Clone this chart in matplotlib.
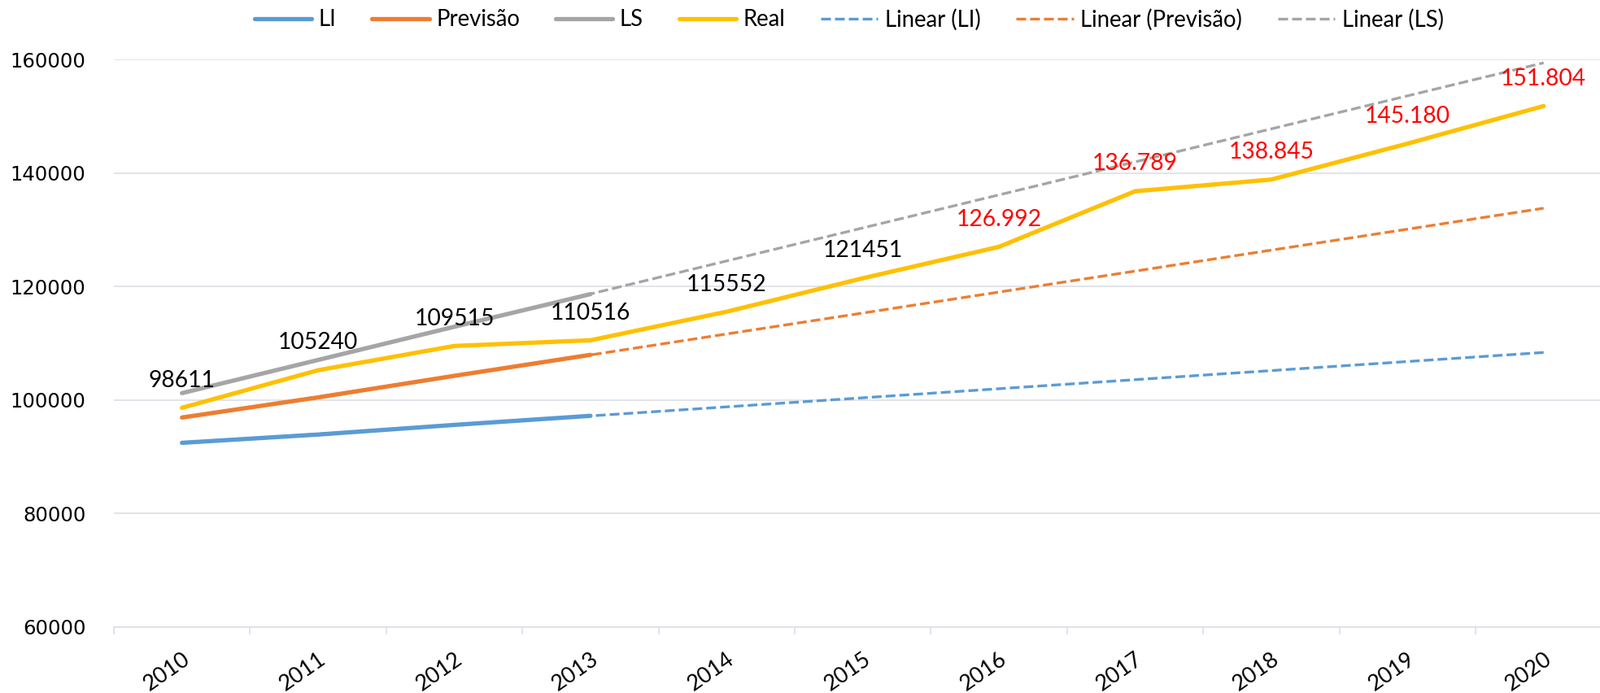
import numpy as np
import matplotlib
matplotlib.use("Agg")
import matplotlib.pyplot as plt
import matplotlib.transforms as mtransforms
from matplotlib.lines import Line2D

# ---------------- data ----------------
years = ["2010", "2011", "2012", "2013", "2014", "2015",
         "2016", "2017", "2018", "2019", "2020"]
li = [92440, 93900, 95600, 97200]            # limite inferior (2010-2013)
previsao = [96900, 100450, 104250, 107950]   # previsão (2010-2013)
ls = [101200, 107050, 112900, 118650]        # limite superior (2010-2013)
real = [98611, 105240, 109515, 110516, 115552, 121451,
        126992, 136789, 138845, 145180, 151804]
red_from = 6                                  # labels from 2016 on are red
y_ticks = [60000, 80000, 100000, 120000, 140000, 160000]

series_names = ["LI", "Previsão", "LS", "Real"]
trend_names = ["Linear (LI)", "Linear (Previsão)", "Linear (LS)"]

# ---------------- style ----------------
C_BLUE, C_ORANGE, C_GRAY, C_GOLD = "#5B9BD5", "#ED7D31", "#A5A5A5", "#FFC000"
GRID = "#D9DDE4"
LW = 3.8
TLW = 2.4
DASH = (0, (3.6, 1.5))
FONT = "Lato"

W, H = 1967, 852
fig = plt.figure(figsize=(W / 100, H / 100), dpi=100)
left, right, bottom, top = 140, 1981.4, 770.7, 73.2
ax = fig.add_axes([left / W, (H - bottom) / H, (right - left) / W, (bottom - top) / H])

x_all = np.arange(len(years))
x_hist = np.arange(len(li))

# trend lines (linear fit of the history, extended to 2020)
for vals, col in [(li, C_BLUE), (previsao, C_ORANGE), (ls, C_GRAY)]:
    coef = np.polyfit(x_hist, vals, 1)
    ax.plot(x_all, np.polyval(coef, x_all), color=col, lw=TLW, ls=DASH,
            dash_capstyle="butt", zorder=2)

# solid series
for vals, col in [(li, C_BLUE), (previsao, C_ORANGE), (ls, C_GRAY)]:
    ax.plot(x_hist, vals, color=col, lw=LW, solid_capstyle="round",
            solid_joinstyle="round", zorder=3)
ax.plot(x_all, real, color=C_GOLD, lw=LW, solid_capstyle="round",
        solid_joinstyle="round", zorder=4)

# data labels
for i, v in enumerate(real):
    if i < red_from:
        txt, col = str(v), "black"
    else:
        txt, col = f"{v:,}".replace(",", "."), "#FF0000"
    ax.annotate(txt, (i, v), xytext=(0, 18.5), textcoords="offset points",
                ha="center", va="baseline", fontsize=20.3, family=FONT,
                color=col, zorder=5)

# axes
ax.set_xlim(-0.5, len(years) - 0.5)
ax.set_ylim(y_ticks[0], y_ticks[-1])
ax.set_yticks(y_ticks)
ax.set_yticklabels([str(t) for t in y_ticks], family="DejaVu Sans", fontsize=17.5)
ax.tick_params(axis="y", length=0, pad=25)
ax.grid(axis="y", color=GRID, lw=1.1, zorder=0)
ax.set_axisbelow(True)
for s in ["left", "right", "top"]:
    ax.spines[s].set_visible(False)
ax.spines["bottom"].set_color(GRID)
ax.spines["bottom"].set_linewidth(1.1)

ax.set_xticks(x_all)
ax.set_xticklabels(years, rotation=35, ha="right", va="center",
                   rotation_mode="anchor", family=FONT, fontsize=19.5)
ax.set_xticks(np.arange(-0.5, len(years), 1), minor=True)
ax.tick_params(axis="x", which="major", length=0, pad=27)
ax.tick_params(axis="x", which="minor", length=6.5, width=1.1, color=GRID, direction="out")
offset = mtransforms.ScaledTranslation(7 / 100, 0, fig.dpi_scale_trans)
for lab in ax.get_xticklabels():
    lab.set_transform(lab.get_transform() + offset)

# legend
handles = [
    Line2D([], [], color=C_BLUE, lw=LW, solid_capstyle="round"),
    Line2D([], [], color=C_ORANGE, lw=LW, solid_capstyle="round"),
    Line2D([], [], color=C_GRAY, lw=LW, solid_capstyle="round"),
    Line2D([], [], color=C_GOLD, lw=LW, solid_capstyle="round"),
    Line2D([], [], color=C_BLUE, lw=TLW, ls=DASH),
    Line2D([], [], color=C_ORANGE, lw=TLW, ls=DASH),
    Line2D([], [], color=C_GRAY, lw=TLW, ls=DASH),
]
fig.legend(handles, series_names + trend_names, loc="center left",
           bbox_to_anchor=(313 / W, 1 - 24 / H), ncol=7, frameon=False,
           prop={"family": FONT, "size": 19.8}, handlelength=2.55,
           handletextpad=0.31, columnspacing=1.6, borderpad=0,
           borderaxespad=0)

fig.savefig("out.png", dpi=100)
